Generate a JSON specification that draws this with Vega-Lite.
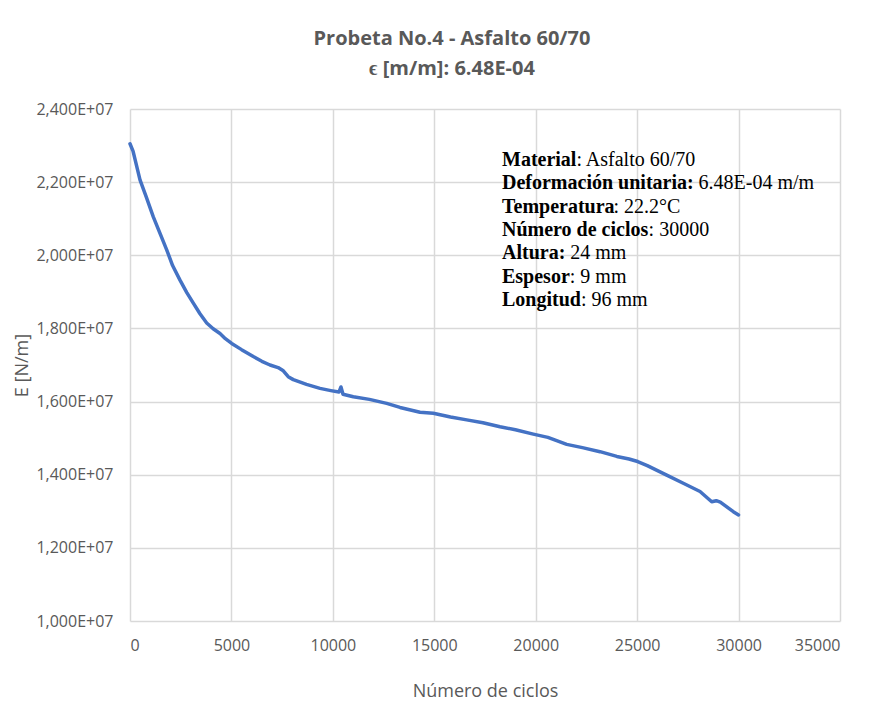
{
  "$schema": "https://vega.github.io/schema/vega-lite/v6.json",
  "width": 710,
  "height": 512,
  "autosize": {"type": "none"},
  "padding": {"left": 130, "top": 109, "right": 52, "bottom": 104},
  "background": "white",
  "title": {
    "text": ["Probeta No.4 - Asfalto 60/70", "ϵ [m/m]: 6.48E-04"],
    "font": "Open Sans",
    "fontSize": 20,
    "fontWeight": "bold",
    "color": "#595959",
    "lineHeight": 30,
    "anchor": "middle",
    "dx": -33,
    "offset": 22
  },
  "datasets": {
    "curve": [
      {"ciclos": 0, "E": 23050000},
      {"ciclos": 150, "E": 22850000},
      {"ciclos": 493, "E": 22060000},
      {"ciclos": 800, "E": 21600000},
      {"ciclos": 1149, "E": 21050000},
      {"ciclos": 1500, "E": 20570000},
      {"ciclos": 1809, "E": 20150000},
      {"ciclos": 2100, "E": 19720000},
      {"ciclos": 2465, "E": 19320000},
      {"ciclos": 2800, "E": 18980000},
      {"ciclos": 3121, "E": 18690000},
      {"ciclos": 3450, "E": 18400000},
      {"ciclos": 3781, "E": 18150000},
      {"ciclos": 4100, "E": 17990000},
      {"ciclos": 4437, "E": 17860000},
      {"ciclos": 4700, "E": 17720000},
      {"ciclos": 5013, "E": 17590000},
      {"ciclos": 5500, "E": 17420000},
      {"ciclos": 6078, "E": 17230000},
      {"ciclos": 6500, "E": 17100000},
      {"ciclos": 6901, "E": 17000000},
      {"ciclos": 7300, "E": 16930000},
      {"ciclos": 7557, "E": 16840000},
      {"ciclos": 7800, "E": 16680000},
      {"ciclos": 8050, "E": 16600000},
      {"ciclos": 8700, "E": 16470000},
      {"ciclos": 9366, "E": 16360000},
      {"ciclos": 9900, "E": 16300000},
      {"ciclos": 10300, "E": 16260000},
      {"ciclos": 10400, "E": 16400000},
      {"ciclos": 10500, "E": 16200000},
      {"ciclos": 11008, "E": 16130000},
      {"ciclos": 11800, "E": 16060000},
      {"ciclos": 12654, "E": 15950000},
      {"ciclos": 13310, "E": 15840000},
      {"ciclos": 14296, "E": 15710000},
      {"ciclos": 14952, "E": 15680000},
      {"ciclos": 15800, "E": 15580000},
      {"ciclos": 16598, "E": 15500000},
      {"ciclos": 17400, "E": 15420000},
      {"ciclos": 18240, "E": 15310000},
      {"ciclos": 19000, "E": 15230000},
      {"ciclos": 19881, "E": 15110000},
      {"ciclos": 20600, "E": 15020000},
      {"ciclos": 21528, "E": 14830000},
      {"ciclos": 22300, "E": 14740000},
      {"ciclos": 23169, "E": 14630000},
      {"ciclos": 24000, "E": 14500000},
      {"ciclos": 24600, "E": 14430000},
      {"ciclos": 25028, "E": 14360000},
      {"ciclos": 25500, "E": 14250000},
      {"ciclos": 26457, "E": 13990000},
      {"ciclos": 27300, "E": 13760000},
      {"ciclos": 28100, "E": 13540000},
      {"ciclos": 28676, "E": 13260000},
      {"ciclos": 28900, "E": 13290000},
      {"ciclos": 29100, "E": 13250000},
      {"ciclos": 29741, "E": 12990000},
      {"ciclos": 30000, "E": 12900000}
    ],
    "info": [
      {"label": "Material", "value": ": Asfalto 60/70", "x": 18338, "y": 22605000},
      {"label": "Deformación unitaria:", "value": "6.48E-04 m/m", "x": 18338, "y": 21968000},
      {"label": "Temperatura", "value": ": 22.2°C", "x": 18338, "y": 21328000},
      {"label": "Número de ciclos", "value": ": 30000", "x": 18338, "y": 20691000},
      {"label": "Altura:", "value": "24 mm", "x": 18338, "y": 20054000},
      {"label": "Espesor", "value": ": 9 mm", "x": 18338, "y": 19414000},
      {"label": "Longitud", "value": ": 96 mm", "x": 18338, "y": 18777000}
    ]
  },
  "config": {
    "view": {"stroke": null},
    "axis": {
      "labelFont": "Open Sans",
      "labelFontSize": 16,
      "labelColor": "#595959",
      "titleFont": "Open Sans",
      "titleFontSize": 18,
      "titleFontWeight": "normal",
      "titleColor": "#595959",
      "gridColor": "#d9d9d9",
      "gridWidth": 1.5,
      "domain": false,
      "ticks": false
    }
  },
  "layer": [
    {
      "data": {"name": "curve"},
      "mark": {"type": "line", "color": "#4472C4", "strokeWidth": 3.5, "strokeJoin": "round", "strokeCap": "round"},
      "encoding": {
        "x": {
          "field": "ciclos",
          "type": "quantitative",
          "scale": {"domain": [0, 35000], "nice": false},
          "axis": {"title": "Número de ciclos", "values": [0, 5000, 10000, 15000, 20000, 25000, 30000, 35000], "format": "d", "labelPadding": 16, "titlePadding": 29}
        },
        "y": {
          "field": "E",
          "type": "quantitative",
          "scale": {"domain": [10000000, 24000000], "nice": false, "zero": false},
          "axis": {
            "title": "E [N/m]",
            "values": [10000000, 12000000, 14000000, 16000000, 18000000, 20000000, 22000000, 24000000],
            "labelExpr": "replace(format(datum.value / 10000000, '.3f'), '.', ',') + 'E+07'",
            "labelPadding": 17,
            "titlePadding": 4
          }
        }
      }
    },
    {
      "data": {"name": "info"},
      "mark": {"type": "text", "font": "Liberation Serif", "fontSize": 20, "fontWeight": "bold", "color": "#000000", "align": "left", "baseline": "middle"},
      "encoding": {
        "x": {"field": "x", "type": "quantitative"},
        "y": {"field": "y", "type": "quantitative"},
        "text": {"field": "label"}
      }
    },
    {
      "data": {"name": "info"},
      "transform": [{"filter": "datum.label === 'Material'"}],
      "mark": {"type": "text", "font": "Liberation Serif", "fontSize": 20, "color": "#000000", "align": "left", "baseline": "middle", "dx": 74.4},
      "encoding": {"x": {"field": "x", "type": "quantitative"}, "y": {"field": "y", "type": "quantitative"}, "text": {"field": "value"}}
    },
    {
      "data": {"name": "info"},
      "transform": [{"filter": "datum.label === 'Deformación unitaria:'"}],
      "mark": {"type": "text", "font": "Liberation Serif", "fontSize": 20, "color": "#000000", "align": "left", "baseline": "middle", "dx": 196.6},
      "encoding": {"x": {"field": "x", "type": "quantitative"}, "y": {"field": "y", "type": "quantitative"}, "text": {"field": "value"}}
    },
    {
      "data": {"name": "info"},
      "transform": [{"filter": "datum.label === 'Temperatura'"}],
      "mark": {"type": "text", "font": "Liberation Serif", "fontSize": 20, "color": "#000000", "align": "left", "baseline": "middle", "dx": 111.5},
      "encoding": {"x": {"field": "x", "type": "quantitative"}, "y": {"field": "y", "type": "quantitative"}, "text": {"field": "value"}}
    },
    {
      "data": {"name": "info"},
      "transform": [{"filter": "datum.label === 'Número de ciclos'"}],
      "mark": {"type": "text", "font": "Liberation Serif", "fontSize": 20, "color": "#000000", "align": "left", "baseline": "middle", "dx": 146.6},
      "encoding": {"x": {"field": "x", "type": "quantitative"}, "y": {"field": "y", "type": "quantitative"}, "text": {"field": "value"}}
    },
    {
      "data": {"name": "info"},
      "transform": [{"filter": "datum.label === 'Altura:'"}],
      "mark": {"type": "text", "font": "Liberation Serif", "fontSize": 20, "color": "#000000", "align": "left", "baseline": "middle", "dx": 68.3},
      "encoding": {"x": {"field": "x", "type": "quantitative"}, "y": {"field": "y", "type": "quantitative"}, "text": {"field": "value"}}
    },
    {
      "data": {"name": "info"},
      "transform": [{"filter": "datum.label === 'Espesor'"}],
      "mark": {"type": "text", "font": "Liberation Serif", "fontSize": 20, "color": "#000000", "align": "left", "baseline": "middle", "dx": 67.8},
      "encoding": {"x": {"field": "x", "type": "quantitative"}, "y": {"field": "y", "type": "quantitative"}, "text": {"field": "value"}}
    },
    {
      "data": {"name": "info"},
      "transform": [{"filter": "datum.label === 'Longitud'"}],
      "mark": {"type": "text", "font": "Liberation Serif", "fontSize": 20, "color": "#000000", "align": "left", "baseline": "middle", "dx": 78.9},
      "encoding": {"x": {"field": "x", "type": "quantitative"}, "y": {"field": "y", "type": "quantitative"}, "text": {"field": "value"}}
    }
  ]
}
